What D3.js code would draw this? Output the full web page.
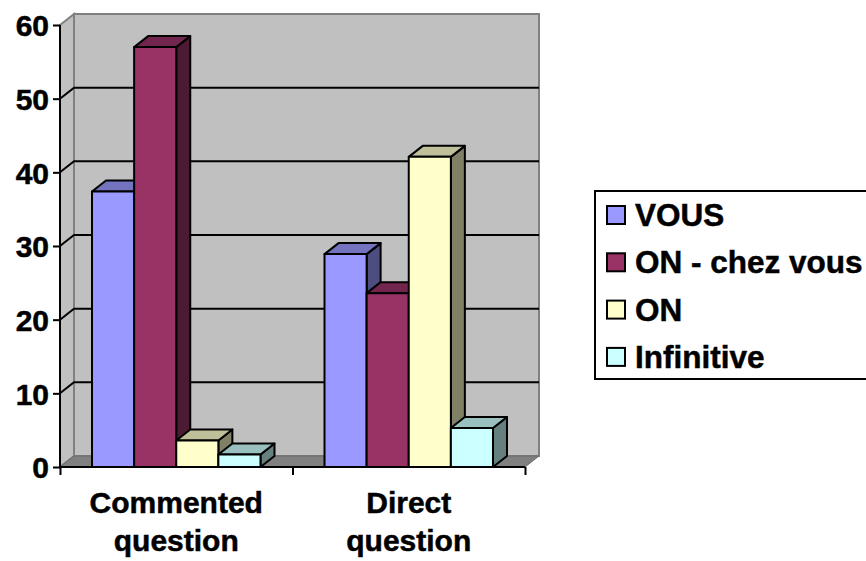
<!DOCTYPE html>
<html>
<head>
<meta charset="utf-8">
<script src="https://cdn.jsdelivr.net/npm/d3@7"></script>
<style>
  html, body { margin: 0; padding: 0; background: #ffffff; overflow: hidden; }
  svg { display: block; font-family: "Liberation Sans", Arial, sans-serif; font-weight: bold; }
  text { stroke: #000; stroke-width: 0.5px; }
</style>
</head>
<body>
<svg id="chart" width="866" height="561"></svg>
<script>
const categories = [["Commented", "question"], ["Direct", "question"]];
const seriesNames = ["VOUS", "ON - chez vous", "ON", "Infinitive"];
const seriesColors = ["#9999FF", "#993366", "#FFFFCC", "#CCFFFF"];
const vousValues = [37.4, 28.9];
const onChezVousValues = [57.0, 23.6];
const onValues = [3.6, 42.1];
const infinitiveValues = [1.7, 5.3];
const yTicks = [0, 10, 20, 30, 40, 50, 60];

const seriesValues = [vousValues, onChezVousValues, onValues, infinitiveValues];

const svg = d3.select("#chart");
const DX = 14, DY = 11;
const left = 60, right = 525, y0 = 467, yTop = 25;
const FS = 30;
const LFS = 31.5;

const y = d3.scaleLinear().domain([0, 60]).range([y0, yTop]);
const catKeys = categories.map((c, i) => i);
const x = d3.scaleBand().domain(catKeys).range([left, right]);
const xs = d3.scaleBand().domain(seriesNames).range([0, x.bandwidth()]).paddingOuter(0.76).paddingInner(0);

function shade(hex, k) {
  const c = d3.rgb(hex);
  return d3.rgb(c.r * k, c.g * k, c.b * k).formatHex();
}

// side wall
svg.append("path")
  .attr("d", `M${left},${y(60)}L${left + DX},${y(60) - DY}L${left + DX},${y0 - DY}L${left},${y0}Z`)
  .attr("fill", "#C0C0C0").attr("stroke", "#808080").attr("stroke-width", 2);
// back wall
svg.append("rect")
  .attr("x", left + DX).attr("y", y(60) - DY)
  .attr("width", right - left).attr("height", y0 - y(60))
  .attr("fill", "#C0C0C0").attr("stroke", "#808080").attr("stroke-width", 2);
// floor
svg.append("path")
  .attr("d", `M${left},${y0}L${left + DX},${y0 - DY}L${right + DX},${y0 - DY}L${right},${y0}Z`)
  .attr("fill", "#808080").attr("stroke", "#6a6a6a").attr("stroke-width", 1);

// gridlines
const gridVals = yTicks.filter(v => v > 0 && v < 60);
svg.append("g").selectAll("path").data(gridVals).join("path")
  .attr("d", v => `M${left},${y(v)}L${left + DX},${y(v) - DY}L${right + DX},${y(v) - DY}`)
  .attr("fill", "none").attr("stroke", "#000").attr("stroke-width", 2);

// bars
const bars = svg.append("g");
catKeys.forEach(ci => {
  seriesNames.forEach((s, si) => {
    const v = seriesValues[si][ci];
    const x0 = x(ci) + xs(s);
    const w = xs.bandwidth();
    const yv = y(v);
    const col = seriesColors[si];
    const g = bars.append("g").attr("stroke", "#000").attr("stroke-width", 2).attr("stroke-linejoin", "round");
    g.append("path")
      .attr("d", `M${x0 + w},${yv}L${x0 + w + DX},${yv - DY}L${x0 + w + DX},${y0 - DY}L${x0 + w},${y0}Z`)
      .attr("fill", shade(col, 0.5));
    g.append("path")
      .attr("d", `M${x0},${yv}L${x0 + DX},${yv - DY}L${x0 + w + DX},${yv - DY}L${x0 + w},${yv}Z`)
      .attr("fill", shade(col, 0.75));
    g.append("rect")
      .attr("x", x0).attr("y", yv).attr("width", w).attr("height", y0 - yv)
      .attr("fill", col);
  });
});

// y axis
const yAxis = d3.axisLeft(y).tickValues(yTicks).tickSize(7).tickPadding(4);
const ya = svg.append("g").attr("transform", `translate(${left},0)`).call(yAxis);
ya.select(".domain").attr("stroke", "#000").attr("stroke-width", 2).attr("d", `M0,${yTop}V${y0}`);
ya.selectAll(".tick line").attr("stroke", "#000").attr("stroke-width", 2);
ya.selectAll(".tick text")
  .attr("font-family", "Liberation Sans, Arial, sans-serif")
  .attr("font-weight", "bold").attr("font-size", FS).attr("fill", "#000")
  .attr("dy", "0.36em");

// x axis
const xAxis = d3.axisBottom(d3.scaleLinear().domain([0, 2]).range([left, right]))
  .tickValues([0, 1, 2]).tickSize(8).tickFormat("");
const xa = svg.append("g").attr("transform", `translate(0,${y0})`).call(xAxis);
xa.select(".domain").attr("stroke", "#000").attr("stroke-width", 2).attr("d", `M${left},0H${right}`);
xa.selectAll(".tick line").attr("stroke", "#000").attr("stroke-width", 2);

// category labels
const lab = svg.append("g").attr("font-size", FS).attr("text-anchor", "middle").attr("fill", "#000");
categories.forEach((lines, ci) => {
  lines.forEach((t, li) => {
    lab.append("text")
      .attr("x", x(ci) + x.bandwidth() / 2)
      .attr("y", 513 + li * 38)
      .text(t);
  });
});

// legend
const lg = svg.append("g");
lg.append("rect").attr("x", 595).attr("y", 191).attr("width", 290).attr("height", 188)
  .attr("fill", "#fff").attr("stroke", "#000").attr("stroke-width", 2);
seriesNames.forEach((s, i) => {
  const by = 226 + i * 47.3;
  lg.append("rect").attr("x", 607).attr("y", by - 20).attr("width", 18).attr("height", 18)
    .attr("fill", seriesColors[i]).attr("stroke", "#000").attr("stroke-width", 2);
  lg.append("text").attr("x", 635).attr("y", by).attr("font-size", LFS).attr("fill", "#000").text(s);
});
</script>
</body>
</html>
